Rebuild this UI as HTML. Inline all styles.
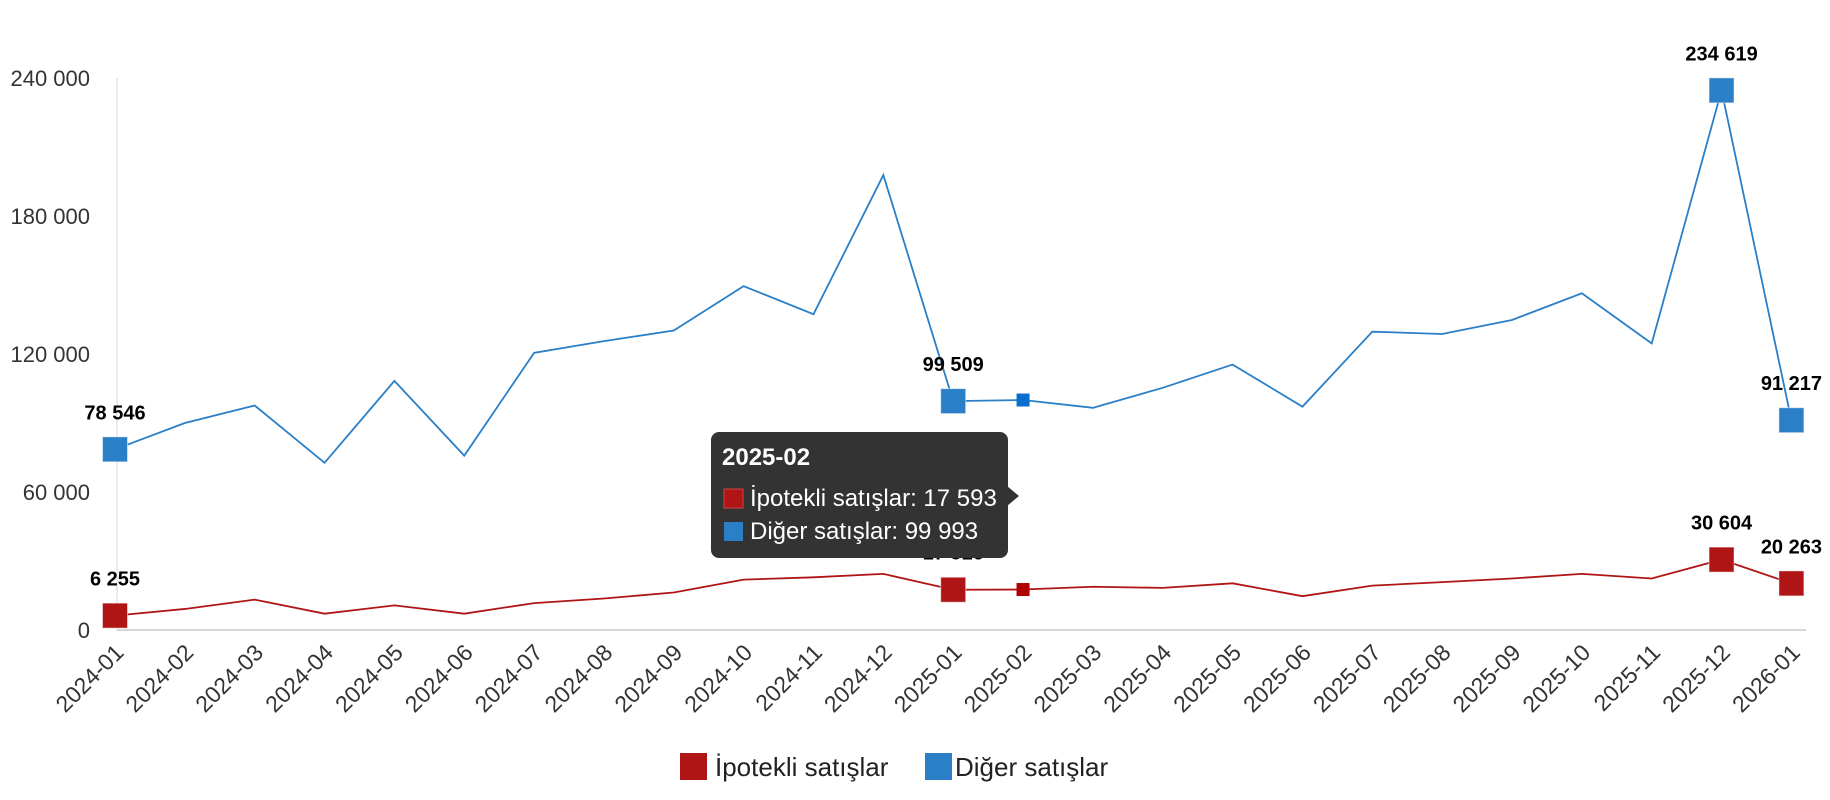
<!DOCTYPE html>
<html><head><meta charset="utf-8"><style>
html,body{margin:0;padding:0;background:#fff;}
svg{display:block;font-family:"Liberation Sans","DejaVu Sans",sans-serif;}
</style></head><body>
<svg width="1830" height="800" viewBox="0 0 1830 800" xmlns="http://www.w3.org/2000/svg" id="c"></svg>
<script>
const svg=document.getElementById('c');
const NS='http://www.w3.org/2000/svg';
function el(t,a,txt){const e=document.createElementNS(NS,t);for(const k in a)e.setAttribute(k,a[k]);if(txt!==undefined)e.textContent=txt;svg.appendChild(e);return e;}
const labels=['2024-01','2024-02','2024-03','2024-04','2024-05','2024-06','2024-07','2024-08','2024-09','2024-10','2024-11','2024-12','2025-01','2025-02','2025-03','2025-04','2025-05','2025-06','2025-07','2025-08','2025-09','2025-10','2025-11','2025-12','2026-01'];
const blue=[78546,90000,97600,72700,108300,75800,120500,125600,130200,149500,137300,197800,99509,99993,96600,105300,115400,97100,129700,128700,134800,146400,124600,234619,91217];
const red=[6255,9150,13200,7100,10700,7100,11700,13700,16300,21900,22900,24400,17516,17593,18800,18300,20300,14700,19300,20800,22400,24400,22400,30604,20263];
const X=i=>115+i*69.85, Y=v=>630-v*552/240000;
el('line',{x1:117,y1:78,x2:117,y2:630,stroke:'#e3e3e3','stroke-width':1.5});
el('line',{x1:117,y1:630,x2:1806,y2:630,stroke:'#d6d6d6','stroke-width':2});
[[0,'0'],[60000,'60 000'],[120000,'120 000'],[180000,'180 000'],[240000,'240 000']].forEach(([v,t])=>{
 el('text',{x:90,y:Y(v)+8,'text-anchor':'end','font-size':22,fill:'#333'},t);});
labels.forEach((l,i)=>{el('text',{x:0,y:0,'text-anchor':'end','font-size':23,fill:'#333',transform:`translate(${X(i)+10},${654}) rotate(-45)`},l);});
function series(d,col){
 el('polyline',{points:d.map((v,i)=>X(i)+','+Y(v)).join(' '),fill:'none',stroke:col,'stroke-width':1.8});
}
series(blue,'#2a7fc7');series(red,'#b01515');
const big=[0,12,23,24];
function marks(d,col){
 big.forEach(i=>{el('rect',{x:X(i)-12.5,y:Y(d[i])-12.5,width:25,height:25,fill:col,stroke:'#fff','stroke-opacity':0.5,'stroke-width':1});
  el('text',{x:X(i),y:Y(d[i])-30,'text-anchor':'middle','font-size':20,'font-weight':'bold',fill:'#000'},d[i].toString().replace(/\B(?=(\d{3})+(?!\d))/g,' '));});
}
marks(blue,'#2a7fc7');marks(red,'#b01515');
el('rect',{x:X(13)-6.5,y:Y(blue[13])-6.5,width:13,height:13,fill:'#0a6ecf'});
el('rect',{x:X(13)-6.5,y:Y(red[13])-6.5,width:13,height:13,fill:'#b00000'});
el('rect',{x:711,y:432,width:297,height:126,rx:8,fill:'#333'});
el('path',{d:'M1007,486 L1019,496 L1007,506 Z',fill:'#333'});
el('text',{x:722,y:465,'font-size':24,'font-weight':'bold',fill:'#fff'},'2025-02');
el('rect',{x:724,y:489,width:19,height:19,fill:'#b01515',stroke:'#c44',"stroke-width":1});
el('text',{x:750,y:506,'font-size':24,fill:'#fff'},'İpotekli satışlar: 17 593');
el('rect',{x:724,y:522,width:19,height:19,fill:'#2a7fc7'});
el('text',{x:750,y:539,'font-size':24,fill:'#fff'},'Diğer satışlar: 99 993');
el('rect',{x:680,y:753,width:27,height:27,fill:'#b01515'});
el('text',{x:715,y:776,'font-size':26,fill:'#222'},'İpotekli satışlar');
el('rect',{x:925,y:753,width:27,height:27,fill:'#2a7fc7'});
el('text',{x:955,y:776,'font-size':26,fill:'#222'},'Diğer satışlar');
</script>
</body></html>
